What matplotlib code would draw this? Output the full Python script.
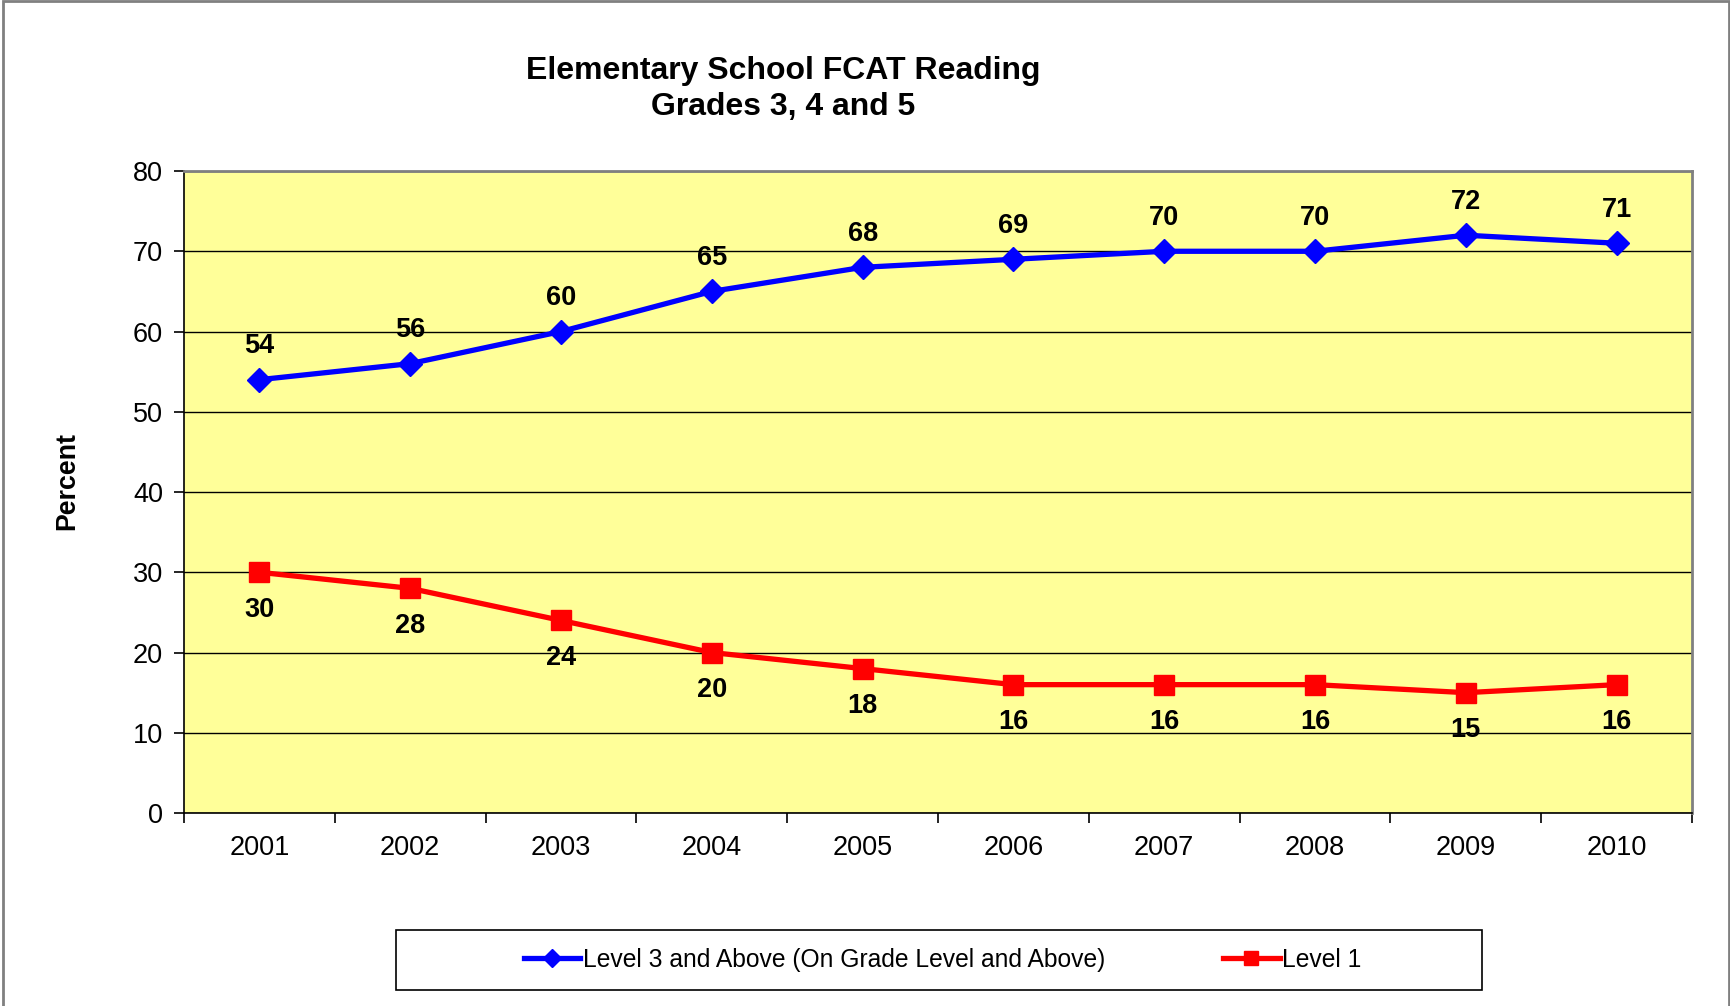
import matplotlib
matplotlib.use('Agg')
import matplotlib.pyplot as plt
from matplotlib.patches import Rectangle

plt.rcParams['font.family'] = ['Liberation Sans', 'DejaVu Sans']

years = ['2001', '2002', '2003', '2004', '2005', '2006', '2007', '2008', '2009', '2010']
level3_above = [54, 56, 60, 65, 68, 69, 70, 70, 72, 71]
level1 = [30, 28, 24, 20, 18, 16, 16, 16, 15, 16]

fig = plt.figure(figsize=(17.31, 10.06), dpi=100)
ax = fig.add_axes([0.1063, 0.1918, 0.8712, 0.6382])
ax.set_facecolor('#FFFF99')

x = list(range(len(years)))

# grid lines
ax.set_ylim(0, 80)
ax.set_xlim(-0.5, len(years) - 0.5)
ax.set_yticks(range(0, 81, 10))
ax.yaxis.grid(True, color='black', linewidth=1)
ax.set_axisbelow(True)

ax.plot(x, level3_above, color='#0000FF', linewidth=3.8, marker='D', markersize=12.5,
        label='Level 3 and Above (On Grade Level and Above)')
ax.plot(x, level1, color='#FF0000', linewidth=3.8, marker='s', markersize=14,
        label='Level 1')

for xi, v in zip(x, level3_above):
    ax.annotate(str(v), (xi, v), xytext=(0, 24), textcoords='offset points',
                ha='center', va='center', fontsize=19.5, fontweight='bold')
for xi, v in zip(x, level1):
    ax.annotate(str(v), (xi, v), xytext=(0, -27), textcoords='offset points',
                ha='center', va='center', fontsize=19.5, fontweight='bold')

# axis ticks: labels at centres, tick marks at category boundaries
ax.set_xticks(x)
ax.set_xticklabels(years)
ax.set_xticks([i - 0.5 for i in range(len(years) + 1)], minor=True)
ax.tick_params(axis='x', which='major', length=0, pad=15.5, labelsize=19.5)
ax.tick_params(axis='x', which='minor', length=7, width=1.2, direction='out', color='black')
ax.tick_params(axis='y', length=7, width=1.2, pad=8, labelsize=19.5, color='black')

for side in ['top', 'right']:
    ax.spines[side].set_color('#808080')
    ax.spines[side].set_linewidth(2)
for side in ['left', 'bottom']:
    ax.spines[side].set_color('black')
    ax.spines[side].set_linewidth(1.2)

fig.text(0.4523, 0.9115, 'Elementary School FCAT Reading\nGrades 3, 4 and 5',
         ha='center', va='center', fontsize=23, fontweight='bold', linespacing=1.28)
fig.text(0.039, 0.522, 'Percent', rotation=90, ha='center', va='center',
         fontsize=19.3, fontweight='bold')

# legend box
fig.patches.append(Rectangle((0.2288, 0.0159), 0.6274, 0.0596, transform=fig.transFigure,
                             facecolor='white', edgecolor='black', linewidth=1.2))
fig.legend(loc='center', bbox_to_anchor=(0.5445, 0.0457), ncol=2, frameon=False,
           fontsize=17.7, handlelength=2.3, handletextpad=0.1, columnspacing=4.8,
           markerscale=0.75)

# outer chart border
fig.patches.append(Rectangle((0.0015, -0.01), 0.9975, 1.009, transform=fig.transFigure,
                             facecolor='none', edgecolor='#808080', linewidth=2))

fig.savefig('out.png', dpi=100)
